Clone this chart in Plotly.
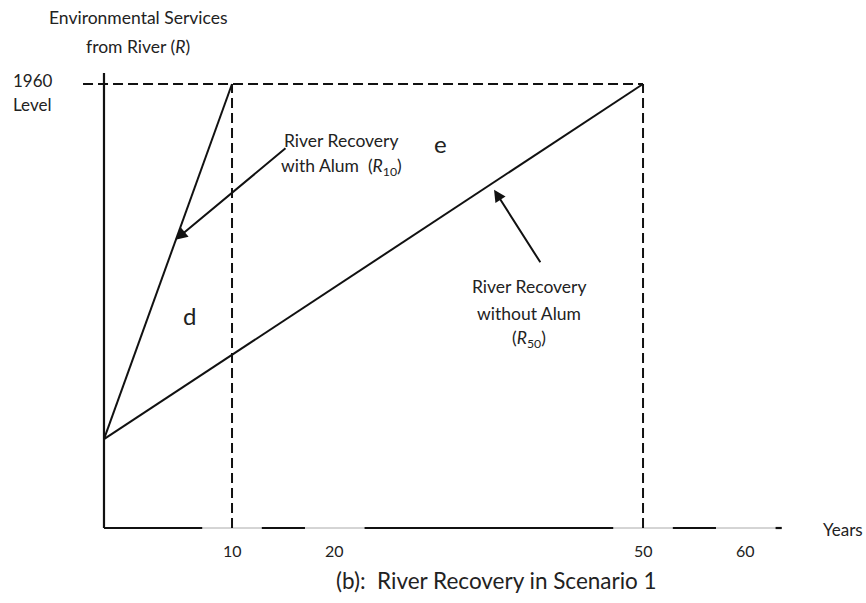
import plotly.graph_objects as go

# ---- data (schematic) ----
tick_years = [10, 20, 50, 60]
tick_labels = ["10", "20", "50", "60"]
axis_start = -2.46          # year position of the vertical axis
axis_end = 63.5             # end of the horizontal axis
level_1960 = 100
start_level = 20
years_r10 = [axis_start, 10]
r10 = [start_level, level_1960]
years_r50 = [axis_start, 50]
r50 = [start_level, level_1960]

W, H = 866, 603
xmin, xmax = -12.58, 71.70
ymin, ymax = -16.89, 118.92
FONT = "Lato, 'Open Sans', sans-serif"
BLACK = "#111111"

fig = go.Figure()
fig.add_trace(go.Scatter(x=years_r10, y=r10, mode="lines",
                         line=dict(color=BLACK, width=2), hoverinfo="skip"))
fig.add_trace(go.Scatter(x=years_r50, y=r50, mode="lines",
                         line=dict(color=BLACK, width=2), hoverinfo="skip"))

shapes = []
# y axis
shapes.append(dict(type="line", xref="x", yref="y", x0=axis_start, x1=axis_start,
                   y0=0, y1=102.5, line=dict(color=BLACK, width=2.2)))
# thin gray x axis
shapes.append(dict(type="line", xref="x", yref="y", x0=axis_start, x1=axis_end,
                   y0=0, y1=0, line=dict(color="#aaaaaa", width=1)))
# black x axis segments with gaps around ticks
gap = 2.9
bounds = [axis_start] + [v for t in tick_years for v in (t - gap, t + gap)] + [axis_end]
for i in range(0, len(bounds), 2):
    shapes.append(dict(type="line", xref="x", yref="y", x0=bounds[i], x1=bounds[i + 1],
                       y0=0, y1=0, line=dict(color=BLACK, width=2.2)))
# 1960 level dashed line
shapes.append(dict(type="line", xref="x", yref="y", x0=-4.5, x1=years_r50[1],
                   y0=level_1960, y1=level_1960,
                   line=dict(color=BLACK, width=2, dash="10px,5px")))
# vertical dashed lines at 10 and 50 years
for xv in (years_r10[1], years_r50[1]):
    shapes.append(dict(type="line", xref="x", yref="y", x0=xv, x1=xv,
                       y0=0, y1=level_1960,
                       line=dict(color=BLACK, width=2, dash="10px,5px")))

def px(x, y, text, size=17.5, xanchor="center"):
    return dict(x=x / W, y=1 - y / H, xref="paper", yref="paper", text=text,
                showarrow=False, xanchor=xanchor, yanchor="middle",
                font=dict(family=FONT, size=size, color="#222222"))

ann = [
    px(138, 18, "Environmental Services"),
    px(138, 47, "from River (<i>R</i>)"),
    px(11, 81, "1960", 17, "left"),
    px(11, 105, "Level", 17, "left"),
    px(341, 140, "River Recovery"),
    px(341, 167, "with Alum  (<i>R</i><sub>10</sub>)"),
    px(440, 143, "e", 24),
    px(189, 315, "d", 24),
    px(529, 286, "River Recovery"),
    px(529, 313, "without Alum"),
    px(529, 339, "(<i>R</i><sub>50</sub>)"),
    px(843, 529, "Years", 17),
    px(496, 580, "(b):  River Recovery in Scenario 1", 22.5),
]
for t, lab in zip(tick_years, tick_labels):
    ann.append(dict(x=t, y=1 - 550 / H, xref="x", yref="paper", text=lab,
                    showarrow=False, yanchor="middle",
                    font=dict(family=FONT, size=16, color="#222222")))

# arrows
ann.append(dict(x=4.5, y=64.9, xref="x", yref="y", ax=15.35, ay=85.8,
                axref="x", ayref="y", text="", showarrow=True, arrowhead=2,
                arrowsize=1.2, arrowwidth=2, arrowcolor=BLACK))
ann.append(dict(x=35.5, y=76.2, xref="x", yref="y", ax=40.1, ay=59.5,
                axref="x", ayref="y", text="", showarrow=True, arrowhead=2,
                arrowsize=1.2, arrowwidth=2, arrowcolor=BLACK))

fig.update_layout(
    width=W, height=H, margin=dict(l=0, r=0, t=0, b=0),
    paper_bgcolor="white", plot_bgcolor="white", showlegend=False,
    xaxis=dict(range=[xmin, xmax], visible=False, fixedrange=True),
    yaxis=dict(range=[ymin, ymax], visible=False, fixedrange=True),
    shapes=shapes, annotations=ann,
)
fig.write_html("out.html", config={"displayModeBar": False},
               post_script="document.body.style.margin='0';document.body.style.overflow='hidden';")
